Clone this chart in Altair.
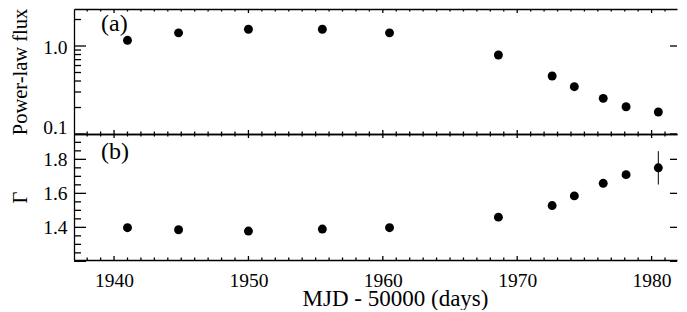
import math
import altair as alt
import pandas as pd

# ---- data ----
mjd = [1941.0, 1944.8, 1950.0, 1955.5, 1960.5, 1968.6, 1972.6, 1974.25, 1976.4, 1978.1, 1980.5]
flux = [1.16, 1.41, 1.55, 1.55, 1.41, 0.79, 0.456, 0.345, 0.254, 0.204, 0.178]
gamma = [1.398, 1.386, 1.378, 1.390, 1.398, 1.460, 1.528, 1.585, 1.659, 1.710, 1.750]
gamma_err = [0.01, 0.01, 0.01, 0.01, 0.01, 0.01, 0.01, 0.01, 0.01, 0.015, 0.098]

x_major = [1940, 1950, 1960, 1970, 1980]
x_minor = [v for v in range(1938, 1982) if v % 10 != 0]
flux_major = [0.1, 1.0]
flux_minor = [0.2, 0.3, 0.4, 0.5, 0.6, 0.7, 0.8, 0.9, 2.0]
gamma_major = [1.2, 1.4, 1.6, 1.8]
gamma_minor = [1.25, 1.3, 1.35, 1.45, 1.5, 1.55, 1.65, 1.7, 1.75, 1.85, 1.9]
panel_labels = ["(a)", "(b)"]
y_titles = ["Power-law flux", "Γ"]
x_title = "MJD - 50000 (days)"

FONT = "Liberation Serif, 'Times New Roman', Times, serif"
INK = "black"
W = 603
TW = 1.3
X0, X1 = 1937.02, 1981.89
F0, F1 = 0.1, 2.633
G0, G1 = 1.208, 1.949

df = pd.DataFrame({
    "mjd": mjd,
    "flux": flux,
    "gamma": gamma,
    "lo": [g - e for g, e in zip(gamma, gamma_err)],
    "hi": [g + e for g, e in zip(gamma, gamma_err)],
})

xscale = alt.Scale(domain=[X0, X1], nice=False, zero=False)
fscale = alt.Scale(type="log", domain=[F0, F1], nice=False)
gscale = alt.Scale(domain=[G0, G1], nice=False, zero=False)


def frame_axis(orient):
    return alt.Axis(orient=orient, domain=True, domainColor=INK, domainWidth=TW,
                    ticks=False, labels=False, title=None, grid=False)


def tick_layer(yscale, ylo, yhi, log, height, ymaj, ymin):
    """Inward tick segments: positions come from the tick lists, lengths in pixels."""
    def ymove(v, px):
        if log:
            return v * 10 ** (px * math.log10(yhi / ylo) / height)
        return v + px * (yhi - ylo) / height

    def xmove(v, px):
        return v + px * (X1 - X0) / W

    rows = []
    for vals, L in ((x_major, 4), (x_minor, 2.5)):
        for v in vals:
            rows.append((v, v, ylo, ymove(ylo, L)))
            rows.append((v, v, yhi, ymove(yhi, -L)))
    for vals, L in ((ymaj, 12), (ymin, 7)):
        for v in vals:
            rows.append((X0, xmove(X0, L), v, v))
    for v in ymaj:
        rows.append((xmove(X1, -7), X1, v, v))
    t = pd.DataFrame(rows, columns=["tx", "tx2", "ty", "ty2"])
    return alt.Chart(t).mark_rule(color=INK, strokeWidth=TW).encode(
        x=alt.X("tx:Q", scale=xscale, axis=None), x2="tx2:Q",
        y=alt.Y("ty:Q", scale=yscale, axis=None), y2="ty2:Q")


def panel(ycol, yscale, ylo, yhi, log, ymaj, ymin, ytitle, label, height, show_x, lab_off):
    base = alt.Chart(df)
    if show_x:
        xmain = alt.Axis(orient="bottom", values=x_major, format="d", ticks=False,
                         domain=True, domainColor=INK, domainWidth=TW, grid=False,
                         labelFont=FONT, labelFontSize=19.5, labelColor=INK, labelPadding=11,
                         title=x_title, titleFont=FONT, titleFontSize=23,
                         titleFontWeight="normal", titleColor=INK,
                         titleX=321, titleY=45, titleBaseline="alphabetic")
    else:
        xmain = frame_axis("bottom")
    ymain = alt.Axis(orient="left", values=ymaj, format=".1f", ticks=False,
                     domain=True, domainColor=INK, domainWidth=TW, grid=False,
                     labelFont=FONT, labelFontSize=19.5, labelColor=INK, labelPadding=7,
                     labelOffset=lab_off,
                     title=ytitle, titleFont=FONT, titleFontSize=20.5,
                     titleFontWeight="normal", titleColor=INK, titleAngle=270,
                     titleX=-48, titleBaseline="alphabetic")
    yv = f"{ycol}:Q"
    layers = []
    if ycol == "gamma":
        layers.append(base.mark_rule(color=INK, strokeWidth=1).encode(
            x=alt.X("mjd:Q", scale=xscale, axis=None),
            y=alt.Y("lo:Q", scale=yscale, axis=None),
            y2="hi:Q"))
    layers.append(base.mark_circle(size=80, color=INK, opacity=1).encode(
        x=alt.X("mjd:Q", scale=xscale, axis=xmain),
        y=alt.Y(yv, scale=yscale, axis=ymain)))
    layers.append(base.mark_point(opacity=0).encode(
        x=alt.X("mjd:Q", scale=xscale, axis=frame_axis("top")),
        y=alt.Y(yv, scale=yscale, axis=None)))
    layers.append(tick_layer(yscale, ylo, yhi, log, height, ymaj, ymin))
    layers.append(alt.Chart(pd.DataFrame({"t": [label]})).mark_text(
        font=FONT, fontSize=24, color=INK, align="left", baseline="alphabetic").encode(
        text="t:N", x=alt.value(27), y=alt.value(22 if ycol == "flux" else 25)))
    return (alt.layer(*layers)
            .resolve_scale(x="shared", y="shared")
            .resolve_axis(x="independent", y="independent")
            .properties(width=W, height=height))


top = panel("flux", fscale, F0, F1, True, flux_major, flux_minor, y_titles[0], panel_labels[0],
            125, False, {"condition": {"test": "datum.value < 0.15", "value": -7}, "value": 2})
bottom = panel("gamma", gscale, G0, G1, False, gamma_major, gamma_minor, y_titles[1], panel_labels[1],
               126, True, {"condition": {"test": "datum.value < 1.25", "value": -7}, "value": 0})

chart = (alt.vconcat(top, bottom, spacing=0, bounds="flush")
         .resolve_scale(x="independent", y="independent")
         .resolve_axis(x="independent", y="independent")
         .configure_view(stroke=None)
         .properties(padding={"left": 2, "top": 0, "right": 0, "bottom": 0}))

chart.save("out.html", embed_options={"renderer": "svg", "actions": False})
